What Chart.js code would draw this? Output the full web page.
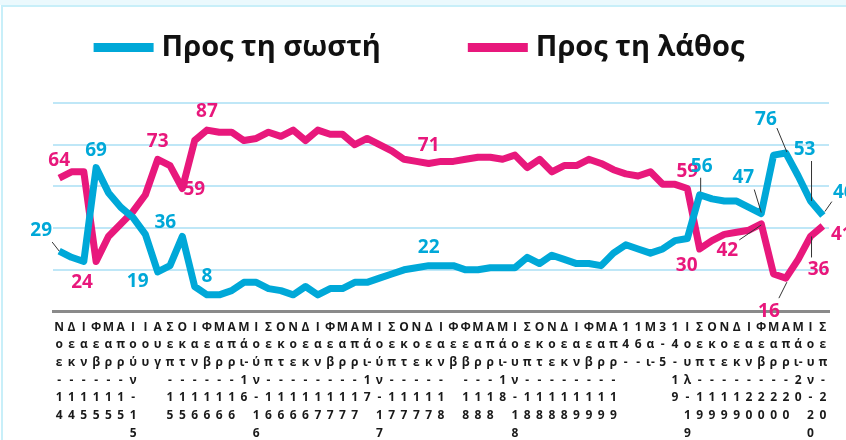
<!DOCTYPE html>
<html lang="el">
<head>
<meta charset="utf-8">
<title>Προς τη σωστή / Προς τη λάθος</title>
<script src="https://cdn.jsdelivr.net/npm/chart.js@4.4.1/dist/chart.umd.min.js"></script>
<style>
    html, body { margin: 0; padding: 0; background: #fff; overflow: hidden; }
    body { width: 846px; height: 440px; position: relative; }
    .band { position: absolute; left: 0; top: 0; width: 846px; height: 5px; background: #ebf9fd; }
    .frame { position: absolute; left: 1px; top: 5px; width: 845px; height: 460px;
             border-top: 2px solid #c8eff9; border-left: 2px solid #c8eff9; box-sizing: border-box; }
    canvas { position: absolute; left: 0; top: 0; }
</style>
</head>
<body>
<div class="band"></div>
<div class="frame"></div>
<canvas id="directionChart" width="846" height="460"></canvas>
<script>
// Poll: direction of the country, Nov 2014 - Sep 2020

// x axis labels, '/' separates the stacked lines
const tickLabels = [
    'Ν/ο/ε/-/1/4', 'Δ/ε/κ/-/1/4', 'Ι/α/ν/-/1/5', 'Φ/ε/β/-/1/5', 'Μ/α/ρ/-/1/5', 'Α/π/ρ/-/1/5',
    'Ι/ο/ύ/ν/-/1/5', 'Ι/ο/υ', 'Α/υ/γ', 'Σ/ε/π/-/1/5', 'Ο/κ/τ/-/1/5',
    'Ι/α/ν/-/1/6', 'Φ/ε/β/-/1/6', 'Μ/α/ρ/-/1/6', 'Α/π/ρ/-/1/6', 'Μ/ά/ι-/1/6', 'Ι/ο/ύ/ν/-/1/6',
    'Σ/ε/π/-/1/6', 'Ο/κ/τ/-/1/6', 'Ν/ο/ε/-/1/6', 'Δ/ε/κ/-/1/6',
    'Ι/α/ν/-/1/7', 'Φ/ε/β/-/1/7', 'Μ/α/ρ/-/1/7', 'Α/π/ρ/-/1/7', 'Μ/ά/ι-/1/7', 'Ι/ο/ύ/ν/-/1/7',
    'Σ/ε/π/-/1/7', 'Ο/κ/τ/-/1/7', 'Ν/ο/ε/-/1/7', 'Δ/ε/κ/-/1/7',
    'Ι/α/ν/-/1/8', 'Φ/ε/β', 'Φ/ε/β/-/1/8', 'Μ/α/ρ/-/1/8', 'Α/π/ρ/-/1/8', 'Μ/ά/ι-/1/8', 'Ι/ο/υ/ν/-/1/8',
    'Σ/ε/π/-/1/8', 'Ο/κ/τ/-/1/8', 'Ν/ο/ε/-/1/8', 'Δ/ε/κ/-/1/8',
    'Ι/α/ν/-/1/9', 'Φ/ε/β/-/1/9', 'Μ/α/ρ/-/1/9', 'Α/π/ρ/-/1/9', '1/4/-', '1/6/-', 'Μ/α/ι-', '3/-/5',
    '1/4/-/1/9', 'Ι/ο/υ/λ/-/1/9', 'Σ/ε/π/-/1/9', 'Ο/κ/τ/-/1/9', 'Ν/ο/ε/-/1/9', 'Δ/ε/κ/-/1/9',
    'Ι/α/ν/-/2/0', 'Φ/ε/β/-/2/0', 'Μ/α/ρ/-/2/0', 'Α/π/ρ/-/2/0', 'Μ/ά/ι-/2/0', 'Ι/ο/υ/ν/-/2/0',
    'Σ/ε/π/-/2/0'
];

const seriesNames = ['Προς τη σωστή', 'Προς τη λάθος'];

// % right direction
const rightDirection = [
    29, 26, 24, 69, 57, 50, 45, 37, 19, 22, 36,
    12, 8, 8, 10, 14, 14, 11, 10, 8, 12,
    8, 11, 11, 14, 14, 16, 18, 20, 21, 22,
    22, 22, 20, 20, 21, 21, 21, 26, 23, 27,
    25, 23, 23, 22, 28, 32, 30, 28, 30, 34,
    35, 56, 54, 53, 53, 50, 47, 75, 76, 65, 53, 46
];

// % wrong direction
const wrongDirection = [
    64, 67, 67, 24, 36, 42, 48, 56, 73, 70, 59,
    82, 87, 86, 86, 82, 83, 86, 84, 87, 82,
    87, 85, 85, 80, 83, 80, 77, 73, 72, 71,
    72, 72, 73, 74, 74, 73, 75, 69, 73, 67,
    70, 70, 73, 71, 68, 66, 65, 67, 61, 61,
    59, 30, 34, 37, 38, 39, 42, 18, 16, 25, 36, 41
];

const colors = ['#00a8d8', '#e8187c'];

// which values get a number, and where it sits relative to its point
const valueLabels = [
    { series: 0, index: 0, dx: -18, dy: -20, leader: [-7, -9, 0, 0] },
    { series: 1, index: 0, dx: 0, dy: -17 },
    { series: 0, index: 3, dx: 0, dy: -17 },
    { series: 1, index: 3, dx: -14, dy: 21 },
    { series: 0, index: 8, dx: -20, dy: 10 },
    { series: 1, index: 8, dx: 0, dy: -18 },
    { series: 0, index: 10, dx: -17, dy: -14 },
    { series: 1, index: 10, dx: 12, dy: 1 },
    { series: 1, index: 12, dx: 0, dy: -19 },
    { series: 0, index: 12, dx: 0, dy: -18 },
    { series: 1, index: 30, dx: 0, dy: -18 },
    { series: 0, index: 30, dx: 0, dy: -18 },
    { series: 1, index: 51, dx: 0, dy: -17 },
    { series: 0, index: 52, dx: 2, dy: -28, leader: [1, -17, 1, -3] },
    { series: 1, index: 52, dx: -13, dy: 17 },
    { series: 1, index: 57, dx: -34, dy: 27, leader: [-22, 16, 0, 1] },
    { series: 0, index: 57, dx: -18, dy: -36, leader: [-7, -24, 0, -1] },
    { series: 0, index: 59, dx: -20, dy: -33, leader: [-9, -25, 1, -1] },
    { series: 1, index: 59, dx: -17, dy: 33, leader: [-7, 20, 1, 4] },
    { series: 0, index: 61, dx: -6, dy: -51, leader: [1, -40, 1, 0] },
    { series: 1, index: 61, dx: 8, dy: 33, leader: [1, 0, 1, 21] },
    { series: 0, index: 62, dx: 21, dy: -23, leader: [2, -4, 9, -14] },
    { series: 1, index: 62, dx: 19, dy: 9 }
];

const valueLabelPlugin = {
    id: 'valueLabels',
    afterDatasetsDraw(chart) {
        const ctx = chart.ctx;
        ctx.save();
        ctx.font = 'bold 19px "Open Sans"';
        ctx.textAlign = 'center';
        ctx.textBaseline = 'middle';
        valueLabels.forEach(l => {
            const ds = chart.data.datasets[l.series];
            const pt = chart.getDatasetMeta(l.series).data[l.index];
            if (l.leader) {
                ctx.strokeStyle = '#333';
                ctx.lineWidth = 1;
                ctx.beginPath();
                ctx.moveTo(pt.x + l.leader[0], pt.y + l.leader[1]);
                ctx.lineTo(pt.x + l.leader[2], pt.y + l.leader[3]);
                ctx.stroke();
            }
            ctx.fillStyle = ds.borderColor;
            ctx.fillText(String(ds.data[l.index]), pt.x + l.dx, pt.y + l.dy);
        });
        ctx.restore();
    }
};

// legend drawn by hand: thick swatch, tight gap, big black text
const topLegendPlugin = {
    id: 'topLegend',
    afterDraw(chart) {
        const ctx = chart.ctx;
        const swatch = 60, gap = 8, itemGap = 87, y = 48;
        ctx.save();
        ctx.font = 'bold 29px "Open Sans"';
        ctx.textBaseline = 'middle';
        const widths = chart.data.datasets.map(ds => ctx.measureText(ds.label).width);
        let total = 0;
        widths.forEach((w, i) => { total += swatch + gap + w + (i ? itemGap : 0); });
        let x = (chart.width - total) / 2 - 4;
        chart.data.datasets.forEach((ds, i) => {
            ctx.fillStyle = ds.borderColor;
            ctx.fillRect(x, y - 5, swatch, 9);
            ctx.fillStyle = '#111';
            ctx.fillText(ds.label, x + swatch + gap, y);
            x += swatch + gap + widths[i] + itemGap;
        });
        ctx.restore();
    }
};

document.addEventListener('DOMContentLoaded', function() {
    const chartCtx = document.getElementById('directionChart');
    new Chart(chartCtx, {
        type: 'line',
        data: {
            labels: tickLabels.map(s => s.split('/')),
            datasets: [{
                label: seriesNames[0],
                data: rightDirection,
                borderColor: colors[0],
                backgroundColor: colors[0],
                borderWidth: 7,
                borderJoinStyle: 'round',
                pointRadius: 0,
                tension: 0
            }, {
                label: seriesNames[1],
                data: wrongDirection,
                borderColor: colors[1],
                backgroundColor: colors[1],
                borderWidth: 7,
                borderJoinStyle: 'round',
                pointRadius: 0,
                tension: 0
            }]
        },
        options: {
            responsive: false,
            animation: false,
            layout: {
                padding: { left: 53, right: 17, top: 103, bottom: 11 }
            },
            plugins: {
                legend: { display: false },
                tooltip: { enabled: false }
            },
            scales: {
                x: {
                    offset: true,
                    grid: { display: false, drawTicks: false },
                    border: { display: true, color: '#8a8a8a', width: 3 },
                    ticks: {
                        autoSkip: false,
                        maxRotation: 0,
                        minRotation: 0,
                        padding: 7,
                        color: '#1a1a1a',
                        font: { family: 'Open Sans', weight: 'bold', size: 12, lineHeight: 1.47 }
                    }
                },
                y: {
                    min: 0,
                    max: 100,
                    ticks: { display: false, stepSize: 20 },
                    grid: {
                        drawTicks: false,
                        lineWidth: 2,
                        color: c => c.tick && c.tick.value === 0 ? 'rgba(0,0,0,0)' : '#bfe7f7'
                    },
                    border: { display: false }
                }
            }
        },
        plugins: [valueLabelPlugin, topLegendPlugin]
    });
});
</script>
</body>
</html>
